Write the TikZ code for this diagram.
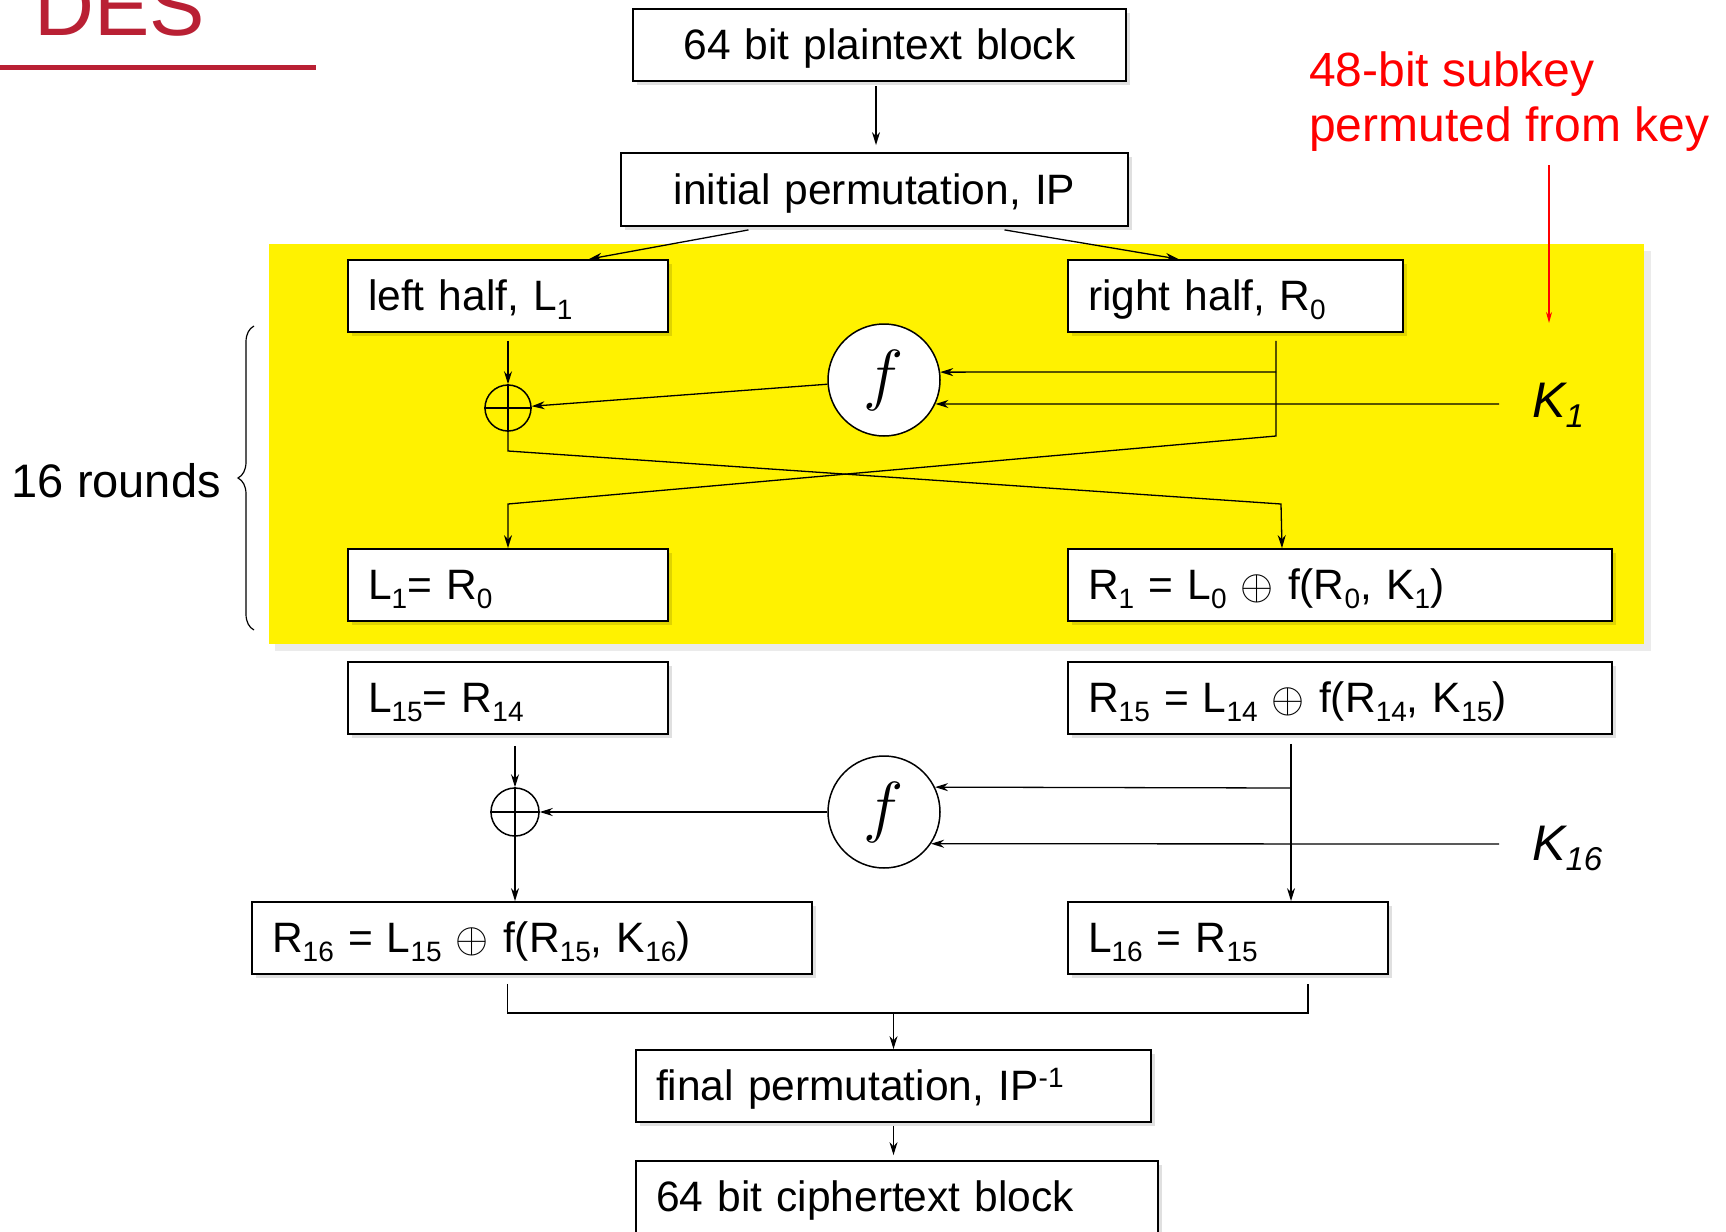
\RequirePackage{fix-cm}
\documentclass[tikz,border=0pt]{standalone}
\usepackage{fontspec}
\setmainfont{Liberation Sans}
\usetikzlibrary{arrows.meta,decorations.pathreplacing,shadows}
\definecolor{desred}{RGB}{185,32,52}
\newcommand\lo[2][28]{\raisebox{-0.2em}{\fontsize{#1}{#1}\selectfont #2}}
\newcommand\hi[2][28]{\raisebox{0.32em}{\fontsize{#1}{#1}\selectfont #2}}
\newcommand\bx{\fontsize{42.5}{50}\selectfont}
\newcommand\xo{$\oplus$}
\begin{document}
\begin{tikzpicture}[x=1pt,y=-1pt,
  box/.style={draw, line width=1.8pt, fill=white, minimum height=72pt,
    inner xsep=20pt, inner ysep=0pt, font=\bx, align=left,
    text height=36pt, text depth=6.6pt,
    drop shadow={shadow xshift=4pt, shadow yshift=-4pt, opacity=0.12, fill=black}},
  fcirc/.style={circle, draw, line width=1.5pt, fill=white, minimum size=112pt,
    inner sep=0pt, font=\fontsize{68}{68}\selectfont},
  xorc/.style={circle, draw, line width=1.5pt, inner sep=0pt},
  arr/.style={-{Stealth[length=13pt,width=8pt]}, line width=1.3pt},
  ln/.style={line width=1.3pt},
  klab/.style={font=\itshape\fontsize{50}{50}\selectfont, inner sep=0pt},
  redarr/.style={red, line width=1.2pt, -{Stealth[length=11pt,width=6pt]}}]
\useasboundingbox (0,0) rectangle (1726,1231);

% title
\node[anchor=base west, inner sep=0pt, text=desred, font=\fontsize{83}{83}\selectfont] (des) at (34,36) {DES};
\draw[desred, line width=5pt] (0,68) coordinate (tl1) -- (316,68) coordinate (tl2);

% yellow round area
\fill[black!8] (275,251) rectangle (1651,651);
\fill[yellow] (269,244) rectangle (1644,644);

% boxes
\node[box, text width=453pt, align=center] (plain) at (879.5,45) {64 bit plaintext block};
\node[box, text width=467pt, align=center, minimum height=73pt] (ip) at (874.5,189.5) {initial permutation, IP};
\node[box, text width=280pt] (lh) at (508,296) {left half, L\lo{1}};
\node[box, text width=295pt] (rh) at (1235.5,296) {right half, R\lo{0}};
\node[box, text width=280pt] (l1) at (508,585) {L\lo{1}= R\lo{0}};
\node[box, text width=504pt] (r1) at (1340,585) {R\lo{1} = L\lo{0} \xo\ f(R\lo{0}, K\lo{1})};
\node[box, text width=280pt] (l15) at (508,698) {L\lo{15}= R\lo{14}};
\node[box, text width=504pt] (r15) at (1340,698) {R\lo{15} = L\lo{14} \xo\ f(R\lo{14}, K\lo{15})};
\node[box, text width=520pt] (r16) at (532,938) {R\lo{16} = L\lo{15} \xo\ f(R\lo{15}, K\lo{16})};
\node[box, text width=280pt] (l16) at (1228,938) {L\lo{16} = R\lo{15}};
\node[box, text width=475pt] (fin) at (893.5,1086) {final permutation, IP\hi{-1}};
\node[box, text width=482pt] (ciph) at (897,1197) {64 bit ciphertext block};

% f circles and xors
\node[fcirc] (f1) at (884,380) {$f$};
\node[fcirc] (f2) at (884,812) {$f$};
\node[xorc, minimum size=46pt] (x1) at (508,408) {};
\draw[line width=1.3pt] (x1.north) -- (x1.south) (x1.west) -- (x1.east);
\node[xorc, minimum size=48pt] (x2) at (515,812) {};
\draw[line width=1.3pt] (x2.north) -- (x2.south) (x2.west) -- (x2.east);

% key labels
\node[klab, anchor=west] (k1) at (1532,405) {K\lo[33]{1}};
\node[klab, anchor=west] (k16) at (1532,848) {K\lo[33]{16}};
\node[anchor=west, align=left, inner sep=0pt, text=red, font=\fontsize{48}{55}\selectfont] (sk) at (1309,101.5) {48-bit subkey\\permuted from key};
\coordinate (ra1) at (1549,165);
\coordinate (ra2) at (1549,323);
\draw[redarr] (ra1) -- (ra2);

% brace
\coordinate (br1) at (254,630);
\coordinate (br2) at (254,326);
\draw[line width=1.2pt, decorate, decoration={brace, amplitude=16pt}] (br1) -- (br2);
\node[anchor=east, inner sep=0pt, font=\fontsize{47}{47}\selectfont] (rounds) at (221,481) {16 rounds};

% top connectors
\draw[arr] ([xshift=-3.5pt,yshift=-4pt]plain.south) -- ([xshift=1.5pt,yshift=7pt]ip.north);
\draw[arr] ([xshift=-126pt,yshift=-3pt]ip.south) -- ([xshift=81pt]lh.north);
\draw[arr] ([xshift=130pt,yshift=-3pt]ip.south) -- ([xshift=-57pt]rh.north);

% round 1
\coordinate (rv1) at ([xshift=40.5pt,yshift=-8pt]rh.south);
\coordinate (tap1) at (1276,372);
\coordinate (rb1) at (1276,436);
\coordinate (lb1) at (508,504);
\coordinate (xb1) at (508,451);
\coordinate (xr1) at (1281,504);
\coordinate (k1s) at (1499,404);
\draw[arr] ([yshift=-8pt]lh.south) -- (x1.north);
\draw[arr] (f1) -- (x1);
\draw[arr] (tap1) -- (f1.8);
\draw[arr] (k1s) -- (f1.-25);
\draw[arr] (rv1) -- (rb1) -- (lb1) -- (l1.north);
\draw[arr] (x1.south) -- (xb1) -- (xr1) -- ([xshift=-58pt]r1.north);

% round 16
\coordinate (rv2) at ([xshift=-49pt,yshift=-9pt]r15.south);
\coordinate (tap2) at (1291,788);
\coordinate (k16s) at (1499,844);
\draw[arr] ([xshift=7pt,yshift=-11pt]l15.south) -- (x2.north);
\draw[arr] (f2) -- (x2);
\draw[arr] (tap2) -- (f2.26.5);
\draw[arr] (k16s) -- (f2.-34.8);
\draw[arr] (rv2) -- (rv2 |- l16.north);
\draw[arr] (x2.south) -- (x2.south |- r16.north);

% merge
\coordinate (m1) at ([xshift=-24.5pt,yshift=-9pt]r16.south);
\coordinate (m2) at ([xshift=80pt,yshift=-9pt]l16.south);
\coordinate (mb) at (893.5,1013);
\draw[ln] (m1) |- (mb) -| (m2);
\draw[arr] (mb) -- (fin.north);
\draw[arr] ([yshift=-3pt]fin.south) -- ([yshift=5pt]fin.south |- ciph.north);
\end{tikzpicture}
\end{document}
